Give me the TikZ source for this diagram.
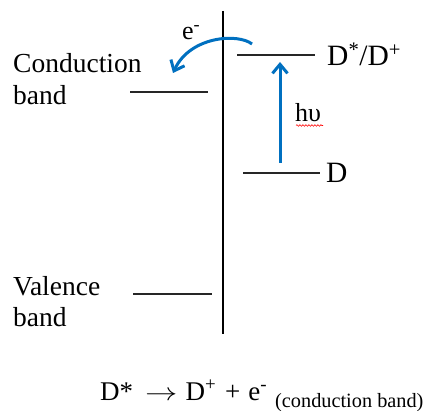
\documentclass[tikz,border=0pt]{standalone}
\usepackage{fontspec}
\setmainfont{Liberation Serif}
\usetikzlibrary{arrows.meta,decorations.pathmorphing}
\begin{document}
\begin{tikzpicture}[x=1pt,y=-1pt,
  level/.style={line width=2pt,black!85},
  axis/.style={line width=2.6pt,black},
  bluearrow/.style={line width=3pt,color={rgb,255:red,0;green,112;blue,192},-{Straight Barb[length=9pt,width=15pt,line width=3pt]}},
  lbl/.style={inner sep=0pt,font=\fontsize{27.5}{31.5}\selectfont},
  dl/.style={inner sep=0pt,font=\fontsize{29.5}{31}\selectfont},
  small/.style={inner sep=0pt,font=\fontsize{26}{30}\selectfont}]
\useasboundingbox (0,0) rectangle (425,411);
% axis
\coordinate (vt) at (223,11);
\coordinate (vb) at (223,334);
\draw[axis] (vt) -- (vb);
% levels
\coordinate (cb1) at (130,92); \coordinate (cb2) at (208,92);
\coordinate (vb1) at (133,294); \coordinate (vb2) at (212,294);
\coordinate (ds1) at (237,55); \coordinate (ds2) at (315,55);
\coordinate (d1) at (243,173); \coordinate (d2) at (320,173);
\draw[level] (cb1) -- (cb2);
\draw[level] (vb1) -- (vb2);
\draw[level] (ds1) -- (ds2);
\draw[level] (d1) -- (d2);
% labels
\node[lbl,anchor=base west,align=left] (cond) at (13,104.5) {Conduction\\band};
\node[lbl,anchor=base west,align=left] (val) at (13,326.5) {Valence\\band};
\node[dl,anchor=base west] (dstar) at (327,66) {D\textsuperscript{*}/D\textsuperscript{+}};
\node[dl,anchor=base west] (dlab) at (326,183) {D};
% excitation arrow
\coordinate (ea) at (280,163);
\coordinate (eb) at (280,62);
\draw[bluearrow] (ea) -- (eb);
\node[small,anchor=base west] (hv) at (295,122) {hυ};
\coordinate (w1) at (296,125.5); \coordinate (w2) at (323,125.5);
\draw[red,line width=0.6pt,decorate,decoration={snake,segment length=3pt,amplitude=0.8pt}] (w1) -- (w2);
% electron transfer
\coordinate (cs) at (252,44);
\coordinate (ce) at (173,73);
\draw[bluearrow] (cs) .. controls (238,33) and (190,36) .. (ce);
\node[small,anchor=base west] (el) at (182,40) {e\textsuperscript{-}};
% equation
\node[inner sep=0pt,font=\fontsize{27}{30}\selectfont,anchor=base west] (eq) at (100,400) {D*\hspace{12pt}\scalebox{1.3}[1]{$\rightarrow$}\hspace{8pt}D\textsuperscript{+}\hspace{9pt}+\hspace{8pt}e\textsuperscript{-}\hspace{8pt}\raisebox{-7pt}{\fontsize{20.3}{20}\selectfont(conduction band)}};
\end{tikzpicture}
\end{document}
